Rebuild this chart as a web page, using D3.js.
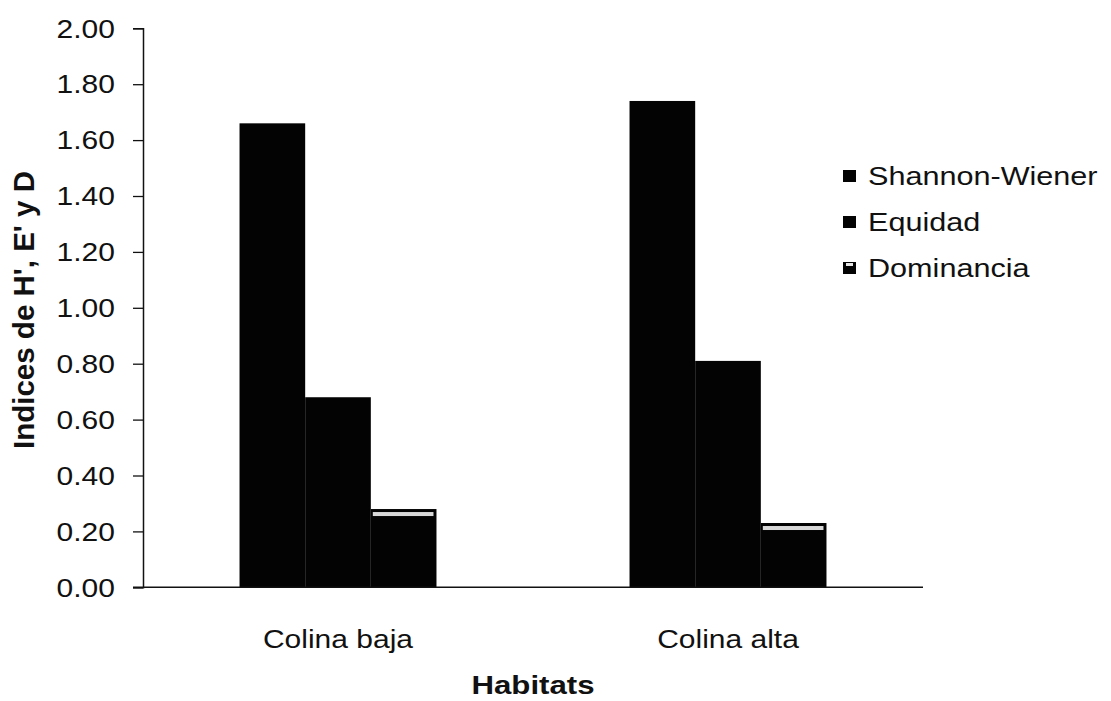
<!DOCTYPE html>
<html>
<head>
<meta charset="utf-8">
<script src="https://cdn.jsdelivr.net/npm/d3@7"></script>
<style>
  html, body { margin: 0; padding: 0; background: #fff; }
  svg { display: block; }
  text { font-family: "Liberation Sans", Arial, sans-serif; fill: #111; }
</style>
</head>
<body>
<svg id="chart" width="1111" height="701"></svg>
<script>
// Habitat categories and diversity indices per habitat
const habitats = ["Colina baja", "Colina alta"];
const seriesNames = ["Shannon-Wiener", "Equidad", "Dominancia"];
const shannon = [1.66, 1.74];
const equidad = [0.68, 0.81];
const dominancia = [0.28, 0.23];
const yTicks = [0, 0.2, 0.4, 0.6, 0.8, 1.0, 1.2, 1.4, 1.6, 1.8, 2.0];

const seriesValues = [shannon, equidad, dominancia];
const rows = habitats.map((h, i) => ({
  habitat: h,
  values: seriesNames.map((s, k) => ({ series: s, value: seriesValues[k][i] }))
}));

const svg = d3.select("#chart");
const plot = { left: 143, right: 923, top: 28.3, bottom: 587.3 };
const sx = 1.2; // horizontal text stretch

const y = d3.scaleLinear().domain([0, 2]).range([plot.bottom, plot.top]);
const x0 = d3.scaleBand().domain(habitats)
  .range([plot.left, plot.right])
  .paddingInner(0.495).paddingOuter(0.2475);
const x1 = d3.scaleBand().domain(seriesNames).range([0, x0.bandwidth()]);

// Bars
const groups = svg.append("g").selectAll("g")
  .data(rows).join("g")
  .attr("transform", d => `translate(${x0(d.habitat)},0)`);

groups.selectAll("rect.bar")
  .data(d => d.values).join("rect")
  .attr("class", "bar")
  .attr("x", d => x1(d.series))
  .attr("y", d => y(d.value))
  .attr("width", x1.bandwidth())
  .attr("height", d => y(0) - y(d.value))
  .attr("fill", "#030303");

// light band near the top of the Dominancia bars
groups.selectAll("rect.hl")
  .data(d => d.values.filter(v => v.series === "Dominancia")).join("rect")
  .attr("class", "hl")
  .attr("x", d => x1(d.series) + 2)
  .attr("y", d => y(d.value) + 3)
  .attr("width", x1.bandwidth() - 5)
  .attr("height", 4)
  .attr("fill", "#d8d8d8");

// Y axis
const yAxis = d3.axisLeft(y).tickValues(yTicks).tickSize(10).tickPadding(0)
  .tickFormat(d3.format(".2f"));
const ya = svg.append("g").attr("transform", `translate(${plot.left},0)`).call(yAxis);
ya.select(".domain").attr("stroke", "#111").attr("stroke-width", 1.5);
ya.selectAll(".tick line").attr("stroke", "#111").attr("stroke-width", 1.3);
ya.selectAll(".tick text").remove();
ya.selectAll(".tick").append("text")
  .attr("text-anchor", "end")
  .attr("transform", `translate(-28,0) scale(${sx},1)`)
  .attr("dy", "0.35em")
  .style("font-size", "25px")
  .style("fill", "#111")
  .text(d => d3.format(".2f")(d));

// X axis baseline
svg.append("line")
  .attr("x1", plot.left - 10).attr("x2", plot.right)
  .attr("y1", y(0)).attr("y2", y(0))
  .attr("stroke", "#111").attr("stroke-width", 1.5);

// Category labels
svg.append("g").selectAll("text")
  .data(habitats).join("text")
  .attr("transform", d => `translate(${x0(d) + x0.bandwidth() / 2},648) scale(${sx},1)`)
  .attr("text-anchor", "middle")
  .style("font-size", "25px")
  .text(d => d);

// Axis titles
svg.append("text")
  .attr("transform", `translate(${(plot.left + plot.right) / 2},694) scale(${sx},1)`)
  .attr("text-anchor", "middle")
  .style("font-size", "26px").style("font-weight", "bold")
  .text("Habitats");

svg.append("text")
  .attr("transform", `translate(34,310) rotate(-90)`)
  .attr("text-anchor", "middle")
  .style("font-size", "29.5px").style("font-weight", "bold")
  .text("Indices de H', E' y D");

// Legend
const legend = svg.append("g").selectAll("g")
  .data(seriesNames).join("g")
  .attr("transform", (d, i) => `translate(843,${170 + i * 46})`);
legend.append("rect")
  .attr("width", 13).attr("height", 12)
  .attr("fill", "#030303");
legend.filter(d => d === "Dominancia").append("rect")
  .attr("x", 3).attr("y", 1).attr("width", 7).attr("height", 3)
  .attr("fill", "#e6e6e6");
legend.append("text")
  .attr("transform", `translate(25,15) scale(${sx},1)`)
  .style("font-size", "25.5px")
  .text(d => d);
</script>
</body>
</html>
